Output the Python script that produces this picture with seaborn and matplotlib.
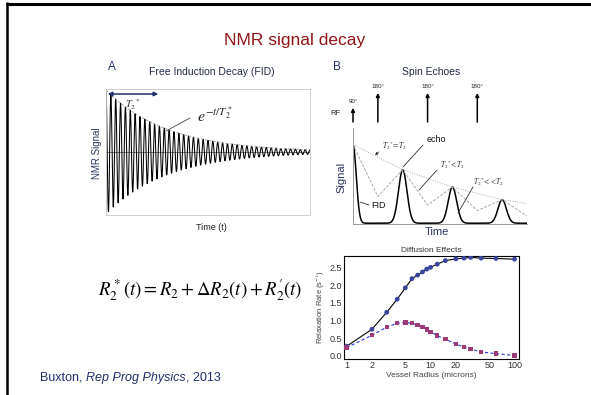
import numpy as np
import pandas as pd
import matplotlib.pyplot as plt
import seaborn as sns

sns.set_style('white')
plt.rcParams['font.family'] = ['Liberation Sans', 'DejaVu Sans']
plt.rcParams['mathtext.fontset'] = 'stix'

NAVY = '#1f2f6b'

# panel A: free induction decay (schematic), parameters
fid_t2star = 0.30      # decay constant, in units of the panel width
fid_cycles = 42        # oscillations across the panel

# panel B: spin echoes (schematic)
rf_times = [0, 1, 3, 5]
rf_labels = ['90°', '180°', '180°', '180°']
echo_times = [0, 2, 4, 6]
echo_heights = [1.0, 0.68, 0.46, 0.30]
echo_widths = [0.13, 0.17, 0.17, 0.17]
t2_line_t = [0, 2, 4, 6, 7.0]
t2_line_v = [1.0, 0.68, 0.46, 0.30, 0.25]
t2s_line_t = [0, 1, 2, 3, 4, 5, 6, 7.0]
t2s_line_v = [1.0, 0.34, 0.68, 0.23, 0.46, 0.16, 0.30, 0.09]

# panel C: diffusion effects
radius = [1, 2, 3, 4, 5, 6, 7, 8, 9, 10, 12, 15, 20, 25, 30, 40, 60, 100]
rate_total = [0.27, 0.75, 1.23, 1.60, 1.92, 2.18, 2.28, 2.37, 2.45, 2.50,
              2.59, 2.69, 2.74, 2.76, 2.78, 2.76, 2.75, 2.73]
rate_diff = [0.23, 0.58, 0.81, 0.92, 0.94, 0.92, 0.87, 0.81, 0.74, 0.68,
             0.57, 0.47, 0.33, 0.25, 0.19, 0.11, 0.06, 0.01]
radius_ticks = [1, 2, 5, 10, 20, 50, 100]

W, H = 591, 395
fig = plt.figure(figsize=(W / 100, H / 100), dpi=100)


def px_box(l, t, r, b):
    return [l / W, 1 - b / H, (r - l) / W, (b - t) / H]


# overlay in pixel coords for slide text and decorations
ax0 = fig.add_axes([0, 0, 1, 1], zorder=10)
ax0.set_xlim(0, W)
ax0.set_ylim(H, 0)
ax0.axis('off')
ax0.plot([6, W], [3.5, 3.5], color='k', lw=2.2, solid_capstyle='butt')
ax0.plot([7, 7], [2, H], color='k', lw=1.8, solid_capstyle='butt')

ax0.text(295, 40, 'NMR signal decay', color='#8f1515', fontsize=12.5,
         ha='center', va='center')

# ---- panel A
axA = fig.add_axes(px_box(106, 89, 310, 215))
t = np.linspace(0, 1, 3000)
fid = pd.DataFrame({'t': t,
                    'sig': np.exp(-t / fid_t2star) * np.cos(2 * np.pi * fid_cycles * t),
                    'env': np.exp(-t / fid_t2star)})
axA.axhline(0, color='#555555', lw=0.5)
sns.lineplot(data=fid, x='t', y='sig', ax=axA, color='k', lw=0.75,
             estimator=None, sort=False)
sns.lineplot(data=fid, x='t', y='env', ax=axA, color='#9a9a9a', lw=0.6,
             ls=(0, (3, 2)), estimator=None, sort=False)
axA.set_xlim(0, 1)
axA.set_ylim(-1.016, 1.016)
axA.set_xticks([0.25])
axA.set_xticklabels([])
axA.set_yticks([])
axA.tick_params(axis='x', length=2, color='#bbbbbb', direction='out')
axA.set_xlabel('')
axA.set_ylabel('')
for s in axA.spines.values():
    s.set_color('#c8c8c8')
    s.set_linewidth(0.6)

ax0.text(112, 67, 'A', color=NAVY, fontsize=8.5, ha='center', va='center')
ax0.text(212, 72, 'Free Induction Decay (FID)', color='#222a44', fontsize=7.5,
         ha='center', va='center')
ax0.text(97, 153, 'NMR Signal', color='#2a3560', fontsize=7, rotation=90,
         ha='center', va='center')
ax0.text(211, 228, 'Time (t)', color='#222222', fontsize=6.5, ha='center', va='center')
ax0.annotate('', xy=(105, 94), xytext=(161, 94),
             arrowprops=dict(arrowstyle='<|-|>', color=NAVY, lw=1.1, mutation_scale=6))
ax0.text(133, 105, r'$T_2{}^{*}$', fontsize=7.5, color='#333333', ha='center', va='center')
ax0.text(197, 115, r'$e^{-t/T_2^*}$', fontsize=11.5, color='#222222', ha='left', va='center')
ax0.plot([190, 166], [118, 131], color='#444444', lw=0.6)

# ---- panel B
axB = fig.add_axes(px_box(353, 128, 527, 224))
tb = np.linspace(0, 7.0, 3000)
black = np.zeros_like(tb)
for tk, hk, wk in zip(echo_times, echo_heights, echo_widths):
    black += hk * np.exp(-(tb - tk) ** 2 / (2 * wk ** 2))
sns.lineplot(x=tb, y=black, ax=axB, color='k', lw=1.1, estimator=None, sort=False)
sns.lineplot(x=t2_line_t, y=t2_line_v, ax=axB, color='#aaaaaa', lw=0.7,
             ls=(0, (1, 1.5)), estimator=None, sort=False)
sns.lineplot(x=t2s_line_t, y=t2s_line_v, ax=axB, color='#aaaaaa', lw=0.7,
             ls=(0, (3, 1.5)), estimator=None, sort=False)
axB.set_xlim(0, 7.0)
axB.set_ylim(-0.01, 1.21)
axB.set_xticks([])
axB.set_yticks([])
axB.set_xlabel('')
axB.set_ylabel('')
axB.spines[['top', 'right']].set_visible(False)
for s in ['left', 'bottom']:
    axB.spines[s].set_color('#999999')
    axB.spines[s].set_linewidth(0.7)

xtr = axB.get_xaxis_transform()
for tk, lab in zip(rf_times, rf_labels):
    top = 1.21 if lab == '90°' else 1.365
    axB.annotate('', xy=(tk, top), xytext=(tk, 1.0625), xycoords=xtr,
                 textcoords=xtr, annotation_clip=False,
                 arrowprops=dict(arrowstyle='-|>', color='k', lw=1.1,
                                 mutation_scale=5, shrinkA=0, shrinkB=0))
    axB.text(tk, top + 0.065, lab, transform=xtr, fontsize=4.5,
             ha='center', va='center', color='#222222')
axB.text(-0.10, 1.156, 'RF', transform=axB.transAxes, fontsize=5.5,
         ha='center', va='center', color='#222222')

ax0.text(337, 67, 'B', color=NAVY, fontsize=8.5, ha='center', va='center')
ax0.text(431, 72, 'Spin Echoes', color='#222a44', fontsize=7.5, ha='center', va='center')
ax0.text(341, 177, 'Signal', color='#2a3560', fontsize=8, rotation=90,
         ha='center', va='center')
ax0.text(437, 232, 'Time', color='#2a3560', fontsize=8, ha='center', va='center')

ax0.text(436, 140, 'echo', fontsize=6.5, ha='center', va='center', color='#111111')
ax0.plot([423, 403], [145, 167], color='#333333', lw=0.6)
ax0.text(394, 146, r'$T_2{}^{*}\!=\!T_2$', fontsize=5.5, ha='center', va='center', color='#333333')
ax0.annotate('', xy=(373, 157), xytext=(381, 150),
             arrowprops=dict(arrowstyle='-|>', color='#333333', lw=0.5, mutation_scale=4))
ax0.text(452, 165, r'$T_2{}^{*}\!<\!T_2$', fontsize=5.5, ha='center', va='center', color='#333333')
ax0.plot([437, 419], [170, 190], color='#333333', lw=0.6)
ax0.text(489, 182, r'$T_2{}^{*}\!<\!<\!T_2$', fontsize=5.5, ha='center', va='center', color='#333333')
ax0.plot([473, 458], [187, 213], color='#333333', lw=0.6)
ax0.text(378, 206, 'FID', fontsize=6.5, ha='center', va='center', color='#111111')
ax0.plot([369, 360], [205, 202], color='#333333', lw=0.6)

# ---- panel C
axC = fig.add_axes(px_box(344, 256, 519, 359))
diff = pd.DataFrame({'radius': radius, 'total': rate_total, 'diffusion': rate_diff})
sns.lineplot(data=diff, x='radius', y='total', ax=axC, color='k', lw=0.8)
sns.lineplot(data=diff, x='radius', y='diffusion', ax=axC, color='#2b3fd6', lw=0.8,
             ls=(0, (3, 2)))
sns.scatterplot(data=diff, x='radius', y='total', ax=axC, color='#3a45a0',
                s=12, marker='o', edgecolor='none', zorder=3)
sns.scatterplot(data=diff, x='radius', y='diffusion', ax=axC, color='#9c3b78',
                s=10, marker='s', edgecolor='none', zorder=3)
axC.set_xscale('log')
axC.set_xlim(0.93, 113)
axC.set_ylim(-0.09, 2.82)
axC.set_xticks(radius_ticks)
axC.set_xticklabels([str(v) for v in radius_ticks])
axC.set_yticks([0, 0.5, 1.0, 1.5, 2.0, 2.5])
axC.set_yticklabels(['0.0', '0.5', '1.0', '1.5', '2.0', '2.5'])
axC.tick_params(axis='both', which='major', labelsize=6.5, length=3, width=0.5,
                direction='in', pad=1.5, labelcolor='#333333')
axC.tick_params(axis='x', which='minor', length=1.5, width=0.4, direction='in')
axC.set_xlabel('Vessel Radius (microns)', fontsize=6, color='#444444', labelpad=1.5)
axC.set_ylabel('Relaxation Rate (s$^{-1}$)', fontsize=5.5, color='#444444', labelpad=2)
axC.set_title('Diffusion Effects', fontsize=6, color='#333333', pad=3)
for s in axC.spines.values():
    s.set_color('k')
    s.set_linewidth(0.8)

# equation and citation
ax0.text(98, 290, r'$R_2^*(t) = R_2 + \Delta R_2(t) + R_2^{\prime}(t)$', fontsize=13.5,
         ha='left', va='center', color='k')
c1 = ax0.text(40, 378, 'Buxton, ', fontsize=9, color=NAVY, ha='left', va='center')
c2 = ax0.annotate('Rep Prog Physics', xy=(1, 0.5), xycoords=c1, fontsize=9,
                  color=NAVY, style='italic', ha='left', va='center')
ax0.annotate(', 2013', xy=(1, 0.5), xycoords=c2, fontsize=9, color=NAVY,
             ha='left', va='center')

fig.savefig('out.png', dpi=100)
